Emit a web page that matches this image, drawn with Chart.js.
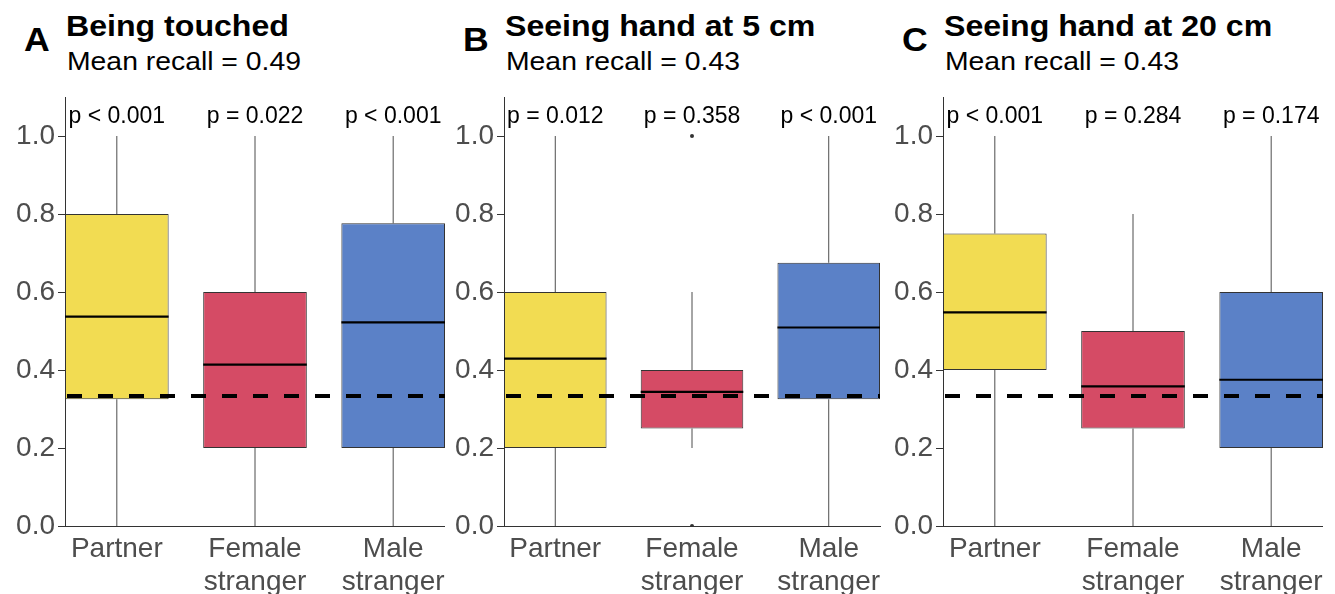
<!DOCTYPE html>
<html>
<head>
<meta charset="utf-8">
<script src="https://cdn.jsdelivr.net/npm/chart.js@4/dist/chart.umd.min.js"></script>
<style>
body { margin:0; background:#fff; width:1335px; height:594px; position:relative; overflow:hidden; font-family:'Liberation Sans', Arial, sans-serif; }
.letter { position:absolute; font-weight:bold; font-size:33px; line-height:33px; color:#000; transform:scaleX(1.08); transform-origin:0 0; }
.title { position:absolute; font-weight:bold; font-size:30px; line-height:30px; color:#000; white-space:nowrap; transform:scaleX(1.07); transform-origin:0 0; }
.sub { position:absolute; font-size:26px; line-height:26px; color:#000; white-space:nowrap; transform:scaleX(1.09); transform-origin:0 0; }
canvas { position:absolute; top:77px; }
</style>
</head>
<body>
<div id="wrap"></div>
<script>
// categories and tick labels
const categories = [['Partner'], ['Female', 'stranger'], ['Male', 'stranger']];
const yTicks = [0, 0.2, 0.4, 0.6, 0.8, 1.0];
const chance = 1 / 3;
const boxColors = ['#F2DC52', '#D54B65', '#5B81C7'];

const panelLetters = ['A', 'B', 'C'];
const panelTitles = ['Being touched', 'Seeing hand at 5 cm', 'Seeing hand at 20 cm'];
const meanRecall = ['Mean recall = 0.49', 'Mean recall = 0.43', 'Mean recall = 0.43'];

// A: being touched
const aWhiskerLo = [0, 0, 0];
const aQ1 = [0.325, 0.2, 0.2];
const aMedian = [0.537, 0.414, 0.522];
const aQ3 = [0.8, 0.6, 0.776];
const aWhiskerHi = [1, 1, 1];
const aOutliers = [[], [], []];
const aP = ['p < 0.001', 'p = 0.022', 'p < 0.001'];

// B: seeing hand at 5 cm
const bWhiskerLo = [0, 0.2, 0];
const bQ1 = [0.2, 0.25, 0.325];
const bMedian = [0.429, 0.344, 0.509];
const bQ3 = [0.6, 0.4, 0.675];
const bWhiskerHi = [1, 0.6, 1];
const bOutliers = [[], [1.0, 0.0], []];
const bP = ['p = 0.012', 'p = 0.358', 'p < 0.001'];

// C: seeing hand at 20 cm
const cWhiskerLo = [0, 0, 0];
const cQ1 = [0.4, 0.25, 0.2];
const cMedian = [0.548, 0.358, 0.375];
const cQ3 = [0.75, 0.5, 0.6];
const cWhiskerHi = [1, 0.8, 1];
const cOutliers = [[], [], []];
const cP = ['p < 0.001', 'p = 0.284', 'p = 0.174'];

const panels = [
  { lo: aWhiskerLo, q1: aQ1, med: aMedian, q3: aQ3, hi: aWhiskerHi, out: aOutliers, p: aP },
  { lo: bWhiskerLo, q1: bQ1, med: bMedian, q3: bQ3, hi: bWhiskerHi, out: bOutliers, p: bP },
  { lo: cWhiskerLo, q1: cQ1, med: cMedian, q3: cQ3, hi: cWhiskerHi, out: cOutliers, p: cP }
];

const FONT = "'Liberation Sans', Arial, sans-serif";

// whiskers, medians, chance line, p values
const boxExtras = {
  id: 'boxExtras',
  afterDatasetsDraw(chart) {
    const pd = chart.options.plugins.boxExtras.panel;
    const xs = chart.scales.x, ys = chart.scales.y;
    const ctx = chart.ctx;
    const meta = chart.getDatasetMeta(0);
    ctx.save();
    pd.med.forEach((m, i) => {
      const x = xs.getPixelForValue(i);
      // whiskers
      ctx.strokeStyle = '#4d4d4d';
      ctx.lineWidth = 1;
      ctx.beginPath();
      ctx.moveTo(x, ys.getPixelForValue(pd.q3[i]));
      ctx.lineTo(x, ys.getPixelForValue(pd.hi[i]));
      ctx.moveTo(x, ys.getPixelForValue(pd.q1[i]));
      ctx.lineTo(x, ys.getPixelForValue(pd.lo[i]));
      ctx.stroke();
      // median
      const bar = meta.data[i];
      const half = bar.width / 2;
      ctx.strokeStyle = '#000';
      ctx.lineWidth = 2.2;
      ctx.beginPath();
      ctx.moveTo(x - half, ys.getPixelForValue(m));
      ctx.lineTo(x + half, ys.getPixelForValue(m));
      ctx.stroke();
      // p value
      ctx.fillStyle = '#000';
      ctx.font = '23px ' + FONT;
      ctx.textAlign = 'center';
      ctx.textBaseline = 'middle';
      ctx.fillText(pd.p[i], x, ys.getPixelForValue(1.05));
    });
    // chance level
    ctx.strokeStyle = '#000';
    ctx.lineWidth = 4;
    ctx.setLineDash([15, 16]);
    ctx.beginPath();
    const yc = ys.getPixelForValue(chance);
    ctx.moveTo(chart.chartArea.left + 2, yc);
    ctx.lineTo(chart.chartArea.right, yc);
    ctx.stroke();
    ctx.restore();
  }
};

const wrap = document.getElementById('wrap');
panels.forEach((pd, k) => {
  const left = 439 * k;
  const letter = document.createElement('div');
  letter.className = 'letter';
  letter.textContent = panelLetters[k];
  letter.style.left = (left + 24) + 'px';
  letter.style.top = '23px';
  wrap.appendChild(letter);
  const t = document.createElement('div');
  t.className = 'title';
  t.textContent = panelTitles[k];
  t.style.left = (left + 66) + 'px';
  t.style.top = '11px';
  wrap.appendChild(t);
  const s = document.createElement('div');
  s.className = 'sub';
  s.textContent = meanRecall[k];
  s.style.left = (left + 67) + 'px';
  s.style.top = '48px';
  wrap.appendChild(s);

  const cv = document.createElement('canvas');
  cv.width = 445; cv.height = 517;
  cv.style.width = '445px'; cv.style.height = '517px';
  cv.style.left = left + 'px';
  wrap.appendChild(cv);

  const outPts = [];
  pd.out.forEach((arr, i) => arr.forEach(v => outPts.push({ x: i, y: v })));

  new Chart(cv, {
    type: 'bar',
    data: {
      datasets: [{
        type: 'bar',
        data: pd.q1.map((q, i) => ({ x: i, y: [q, pd.q3[i]] })),
        backgroundColor: boxColors,
        borderColor: '#333',
        borderWidth: 1,
        borderSkipped: false,
        categoryPercentage: 1,
        barPercentage: 0.75
      }, {
        type: 'scatter',
        data: outPts,
        pointRadius: 2,
        pointBackgroundColor: '#333',
        pointBorderWidth: 0
      }]
    },
    options: {
      responsive: false,
      animation: false,
      layout: { padding: { top: 20, right: 0, left: 0, bottom: 0 } },
      plugins: { legend: { display: false }, tooltip: { enabled: false }, boxExtras: { panel: pd } },
      scales: {
        x: {
          type: 'linear',
          offset: false,
          min: -0.375, max: 2.375,
          afterBuildTicks: ax => { ax.ticks = categories.map((c, i) => ({ value: i })); },
          afterFit: ax => { ax.height = 68; ax.paddingLeft = 0; ax.paddingRight = 0; },
          ticks: {
            callback: v => categories[v],
            font: { family: FONT, size: 28 },
            color: '#4d4d4d',
            padding: 6,
            maxRotation: 0,
            autoSkip: false
          },
          grid: { drawOnChartArea: false, drawTicks: false },
          border: { display: true, color: '#333', width: 1 }
        },
        y: {
          min: 0, max: 1.1,
          afterBuildTicks: ax => { ax.ticks = yTicks.map(v => ({ value: v })); },
          afterFit: ax => { ax.width = 65; },
          ticks: {
            callback: v => v.toFixed(1),
            font: { family: FONT, size: 28 },
            color: '#4d4d4d',
            padding: 3
          },
          grid: { drawOnChartArea: false, drawTicks: true, tickLength: 7, color: '#333' },
          border: { display: true, color: '#333', width: 1 }
        }
      }
    },
    plugins: [boxExtras]
  });
});
</script>
</body>
</html>
